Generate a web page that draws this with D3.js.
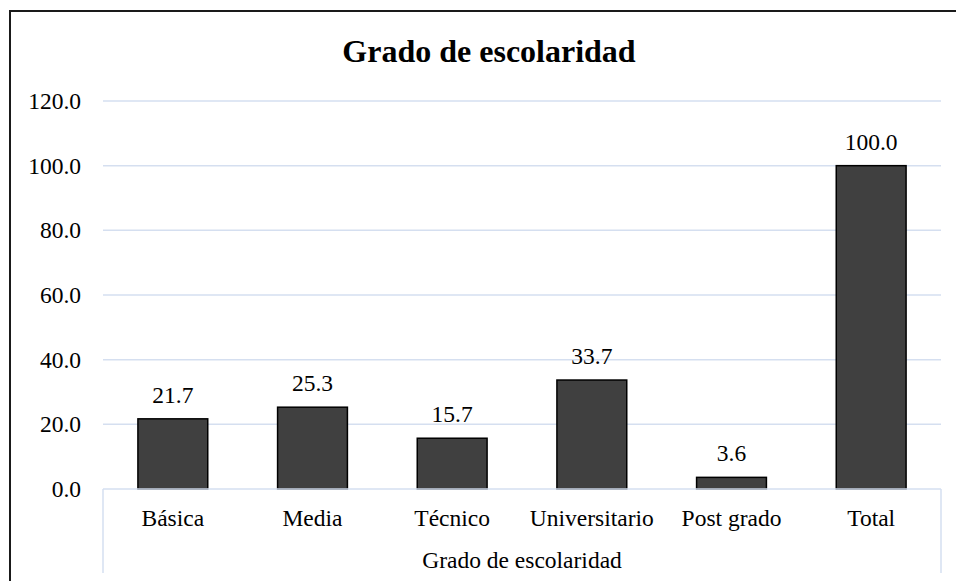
<!DOCTYPE html>
<html>
<head>
<meta charset="utf-8">
<script src="https://cdn.jsdelivr.net/npm/d3@7"></script>
<style>
  body { margin: 0; background: #fff; }
  svg text { font-family: "Liberation Serif", "Times New Roman", serif; fill: #000; }
</style>
</head>
<body>
<div id="chart"></div>
<script>
const categories = ["Básica", "Media", "Técnico", "Universitario", "Post grado", "Total"];
const values = [21.7, 25.3, 15.7, 33.7, 3.6, 100.0];
const yTicks = [0, 20, 40, 60, 80, 100, 120];
const title = "Grado de escolaridad";
const groupLabel = "Grado de escolaridad";

const width = 956;
const height = 581;
const margin = { top: 101, right: 15, bottom: 92, left: 103 };
const fontSize = "23.5px";

const svg = d3.select("#chart")
  .append("svg")
  .attr("width", width)
  .attr("height", height);

// outer frame (runs past the right and bottom edges)
svg.append("rect")
  .attr("x", 10)
  .attr("y", 11)
  .attr("width", width + 20)
  .attr("height", height + 20)
  .attr("fill", "none")
  .attr("stroke", "#1a1a1a")
  .attr("stroke-width", 2);

const x = d3.scaleBand()
  .domain(categories)
  .range([margin.left, width - margin.right])
  .paddingInner(0.5)
  .paddingOuter(0.25);

const y = d3.scaleLinear()
  .domain([0, 120])
  .range([height - margin.bottom, margin.top]);

const gridColor = "#d5dff0";

// gridlines
svg.append("g")
  .selectAll("line")
  .data(yTicks.filter(d => d > 0))
  .join("line")
  .attr("x1", margin.left)
  .attr("x2", width - margin.right)
  .attr("y1", d => y(d))
  .attr("y2", d => y(d))
  .attr("stroke", gridColor)
  .attr("stroke-width", 1.5);

// y axis labels
const yAxis = svg.append("g")
  .attr("transform", `translate(${margin.left}, 0)`)
  .call(d3.axisLeft(y).tickValues(yTicks).tickFormat(d3.format(".1f")).tickSize(0).tickPadding(22));
yAxis.select(".domain").remove();
yAxis.selectAll("text")
  .attr("font-size", fontSize);

// bars
svg.append("g")
  .selectAll("rect")
  .data(values)
  .join("rect")
  .attr("x", (d, i) => x(categories[i]))
  .attr("y", d => y(d))
  .attr("width", x.bandwidth())
  .attr("height", d => y(0) - y(d))
  .attr("fill", "#404040")
  .attr("stroke", "#000")
  .attr("stroke-width", 1.5);

// value labels
svg.append("g")
  .selectAll("text")
  .data(values)
  .join("text")
  .attr("x", (d, i) => x(categories[i]) + x.bandwidth() / 2)
  .attr("y", d => y(d) - 16)
  .attr("text-anchor", "middle")
  .attr("font-size", fontSize)
  .text(d => d3.format(".1f")(d));

// category axis with group bracket
const axisY = y(0);
const axisBottom = 573;
const xAxis = svg.append("g");
xAxis.append("line")
  .attr("x1", margin.left).attr("x2", width - margin.right)
  .attr("y1", axisY).attr("y2", axisY)
  .attr("stroke", gridColor).attr("stroke-width", 1.5);
xAxis.selectAll(".edge")
  .data([margin.left, width - margin.right])
  .join("line")
  .attr("class", "edge")
  .attr("x1", d => d).attr("x2", d => d)
  .attr("y1", axisY).attr("y2", axisBottom)
  .attr("stroke", gridColor).attr("stroke-width", 1.5);

xAxis.selectAll(".cat")
  .data(categories)
  .join("text")
  .attr("class", "cat")
  .attr("x", d => x(d) + x.bandwidth() / 2)
  .attr("y", 526)
  .attr("text-anchor", "middle")
  .attr("font-size", fontSize)
  .text(d => d);

xAxis.append("text")
  .attr("x", (margin.left + width - margin.right) / 2)
  .attr("y", 568)
  .attr("text-anchor", "middle")
  .attr("font-size", fontSize)
  .text(groupLabel);

// title
svg.append("text")
  .attr("x", 489)
  .attr("y", 62)
  .attr("text-anchor", "middle")
  .attr("font-size", "32px")
  .attr("font-weight", "bold")
  .text(title);
</script>
</body>
</html>
